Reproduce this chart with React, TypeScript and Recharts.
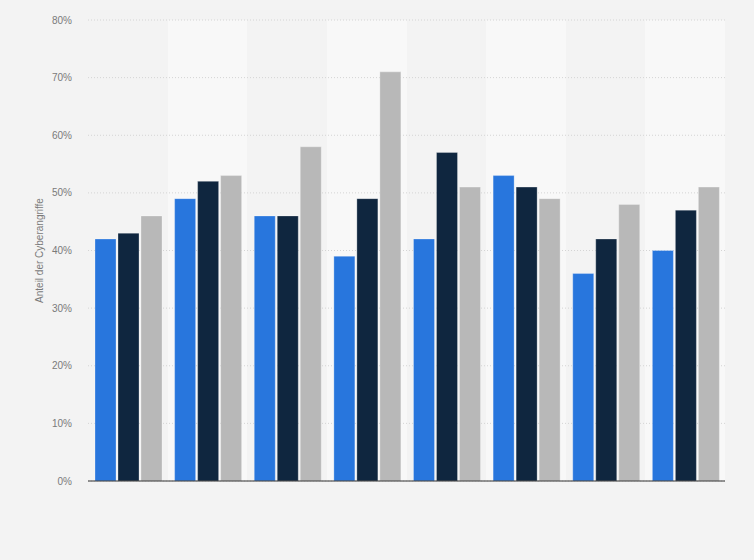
import { BarChart, Bar, XAxis, YAxis, CartesianGrid } from "recharts";

const categories = ["1", "2", "3", "4", "5", "6", "7", "8"];
const seriesBlue = [42, 49, 46, 39, 42, 53, 36, 40];
const seriesNavy = [43, 52, 46, 49, 57, 51, 42, 47];
const seriesGray = [46, 53, 58, 71, 51, 49, 48, 51];
const yTicks = [0, 10, 20, 30, 40, 50, 60, 70, 80];

const data = categories.map((name, i) => ({
  name,
  blue: seriesBlue[i],
  navy: seriesNavy[i],
  gray: seriesGray[i],
}));

const font = "'Liberation Sans', Arial, sans-serif";
const textGray = "#7a7a7a";
const barStroke = "rgba(255,255,255,0.28)";

// category boundaries for the alternating background bands
function bandEdges({ offset }: any) {
  const step = offset.width / categories.length;
  return categories.map((_, i) => offset.left + i * step);
}

function AxisTitle({ viewBox }: any) {
  const cx = viewBox.x + 40;
  const cy = viewBox.y + viewBox.height / 2;
  return (
    <text
      x={cx}
      y={cy}
      transform={`rotate(-90 ${cx} ${cy})`}
      textAnchor="middle"
      dominantBaseline="middle"
      fill={textGray}
      fontSize={10}
      fontFamily={font}
    >
      Anteil der Cyberangriffe
    </text>
  );
}

export default function App() {
  return (
    <div style={{ width: 754, height: 560, background: "#f3f3f3" }}>
      <style>{`body{margin:0}`}</style>
      <BarChart
        width={754}
        height={560}
        data={data}
        margin={{ top: 20, right: 29, bottom: 49, left: 0 }}
        barCategoryGap={7}
        barGap={2}
      >
        <CartesianGrid
          horizontal={false}
          vertical={() => null}
          verticalFill={["none", "#f8f8f8"]}
          verticalCoordinatesGenerator={bandEdges}
        />
        <CartesianGrid
          vertical={false}
          stroke="#d4d4d4"
          strokeDasharray="1 2"
        />
        <XAxis
          dataKey="name"
          tick={false}
          tickLine={false}
          axisLine={{ stroke: "#333", strokeWidth: 1 }}
          height={30}
        />
        <YAxis
          domain={[0, 80]}
          ticks={yTicks}
          tickFormatter={(v) => `${v}%`}
          width={88}
          axisLine={false}
          tickLine={false}
          tickSize={6}
          tickMargin={10}
          tick={{ fontSize: 10, fill: textGray, fontFamily: font }}
          label={<AxisTitle />}
        />
        <Bar dataKey="blue" fill="#2876dd" stroke={barStroke} isAnimationActive={false} />
        <Bar dataKey="navy" fill="#0f263f" stroke={barStroke} isAnimationActive={false} />
        <Bar dataKey="gray" fill="#b8b8b8" stroke={barStroke} isAnimationActive={false} />
      </BarChart>
    </div>
  );
}
